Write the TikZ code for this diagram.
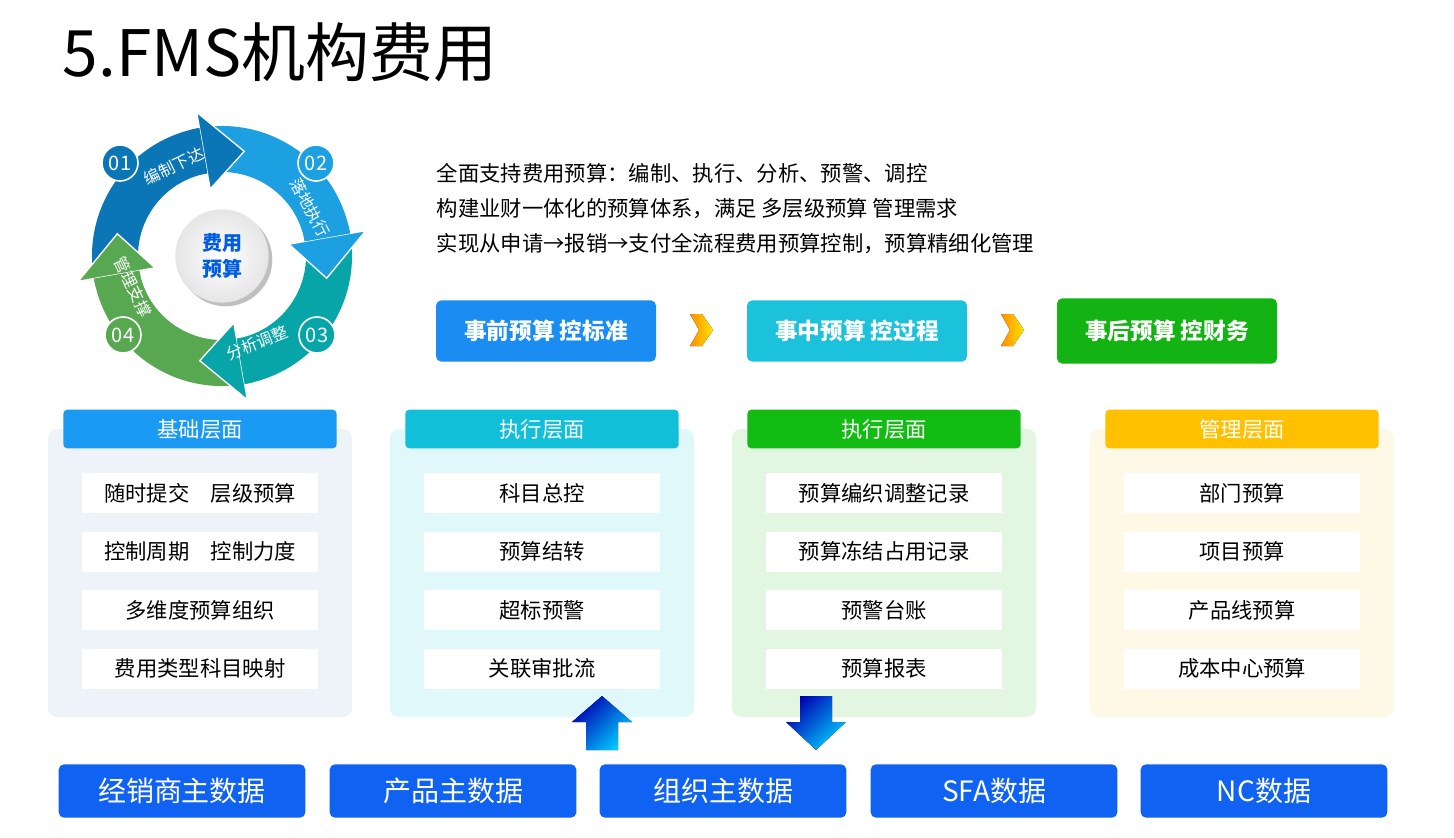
\documentclass[tikz,border=0pt]{standalone}
\usepackage{fontspec}
\setmainfont{Noto Sans CJK SC}
\usetikzlibrary{positioning,shadows}

\definecolor{cycA}{HTML}{0B76B6}
\definecolor{cycB}{HTML}{1CA0E2}
\definecolor{cycC}{HTML}{08A5A8}
\definecolor{cycD}{HTML}{58A852}
\definecolor{stageA}{HTML}{1A8CF2}
\definecolor{stageB}{HTML}{1CC2DC}
\definecolor{stageC}{HTML}{12B312}
\definecolor{dataBlue}{HTML}{1062F2}

\tikzset{
  stage/.style  = {rounded corners=4pt, text=white, font=\bfseries\fontsize{17}{20}\selectfont,
                   minimum width=165pt, minimum height=46pt, inner sep=0pt},
  panel/.style  = {rounded corners=7pt, minimum width=228pt, minimum height=216pt, inner sep=0pt},
  header/.style = {rounded corners=3pt, text=white, font=\fontsize{16}{18}\selectfont,
                   minimum width=205pt, minimum height=29pt, inner sep=0pt},
  item/.style   = {fill=white, font=\fontsize{16}{18}\selectfont,
                   minimum width=177pt, minimum height=30pt, inner sep=0pt},
  data/.style   = {fill=dataBlue, rounded corners=4pt, text=white, font=\fontsize{21}{24}\selectfont,
                   minimum width=185pt, minimum height=40pt, inner sep=0pt},
  badge/.style  = {circle, draw=white, line width=1.2pt, text=white, minimum size=27pt,
                   inner sep=0pt, font=\fontsize{15}{18}\selectfont},
  arclabel/.style = {text=white, inner sep=0pt, font=\fontsize{12}{14}\selectfont},
  chevron/.style  = {left color=orange!90!yellow, right color=yellow!80!orange},
  blockarrow/.style = {left color=blue!70!black, right color=cyan!80!blue, shading angle=45}
}

\begin{document}
\begin{tikzpicture}[x=0.75pt, y=-0.75pt]
  \useasboundingbox[fill=white] (0,0) rectangle (1454,838);

  \node (title) [anchor=west, font=\fontsize{48}{54}\selectfont] at (58,52) {5.FMS机构费用};

  % cycle
  \begin{scope}[shift={(222,256)}, y=0.75pt]
    \foreach \a/\col in {168/cycA, 78/cycB, -12/cycC, -102/cycD} {
      \pgfmathsetmacro\s{\a+20}
      \pgfmathsetmacro\b{\a-68}
      \fill[\col] (\s:130) arc[start angle=\s, end angle=\b, radius=130]
        -- (\b:84) arc[start angle=\b, end angle=\s, radius=84] -- cycle;
    }
    \foreach \a/\col in {168/cycA, 78/cycB, -12/cycC, -102/cycD} {
      \pgfmathsetmacro\b{\a-68}
      \pgfmathsetmacro\t{\a-90}
      \filldraw[fill=\col, draw=white, line width=1pt]
        (\b:146) -- (\t:107) -- (\b:68) -- cycle;
      \fill[\col] (\b:84) arc[start angle=\b, end angle=\b+4, radius=84]
        -- (\b+4:130) arc[start angle=\b+4, end angle=\b, radius=130] -- cycle;
    }
    \node (center) [circle, inner color=white, outer color=gray!20, drop shadow,
                    minimum size=70pt, align=center, text=blue!60!cyan!90!black,
                    font=\bfseries\fontsize{15}{19}\selectfont] at (0,0) {费用\\预算};
  \end{scope}
  \node (n01) [badge, fill=cycA] at (120,163) {01};
  \node (n02) [badge, fill=cycB] at (316,163) {02};
  \node (n03) [badge, fill=cycC] at (317,335) {03};
  \node (n04) [badge, fill=cycD] at (123,335) {04};
  \node (l01) [arclabel, rotate=26]  at (174,166) {编制下达};
  \node (l02) [arclabel, rotate=-62] at (310,208) {落地执行};
  \node (l03) [arclabel, rotate=22]  at (257,343) {分析调整};
  \node (l04) [arclabel, rotate=-64] at (133,287) {管理支撑};

  % intro text
  \node (intro) [anchor=north west, align=left, font=\fontsize{16}{26}\selectfont] at (432,159)
    {全面支持费用预算：编制、执行、分析、预警、调控\\
     构建业财一体化的预算体系，满足 多层级预算 管理需求\\
     实现从申请→报销→支付全流程费用预算控制，预算精细化管理};

  % stages
  \node (before) [stage, fill=stageA] at (546,331)  {事前预算 控标准};
  \node (during) [stage, fill=stageB] at (857,331)  {事中预算 控过程};
  \node (after)  [stage, fill=stageC, minimum height=49pt] at (1167,331) {事后预算 控财务};
  \fill[chevron] (690,314) -- (702,314) -- (713,330) -- (702,346) -- (690,346) -- (699,330) -- cycle;
  \fill[chevron] (1001,314) -- (1013,314) -- (1024,330) -- (1013,346) -- (1001,346) -- (1010,330) -- cycle;

  % panels
  \foreach \px/\bg/\hd/\htext/\ia/\ib/\ic/\id [count=\i] in {
      200/EEF3FA/1A9AF2/基础层面/随时提交\quad 层级预算/控制周期\quad 控制力度/多维度预算组织/费用类型科目映射,
      542/E0F8FA/12BFD9/执行层面/科目总控/预算结转/超标预警/关联审批流,
      884/E2F6E2/12BC12/执行层面/预算编织调整记录/预算冻结占用记录/预警台账/预算报表,
      1242/FDF9E6/FFC000/管理层面/部门预算/项目预算/产品线预算/成本中心预算} {
    \definecolor{pbg}{HTML}{\bg}
    \definecolor{phd}{HTML}{\hd}
    \node (panel\i)  [panel, fill=pbg] at (\px,573) {};
    \node (head\i)   [header, fill=phd] at (\px,429) {\htext};
    \node (itemA\i)  [item] at (\px,493) {\ia};
    \node (itemB\i)  [item, below=13.5pt of itemA\i] {\ib};
    \node (itemC\i)  [item, below=13.5pt of itemB\i] {\ic};
    \node (itemD\i)  [item, below=13.5pt of itemC\i] {\id};
  }

  % data sources
  \node (dealer)  [data] at (182,791)  {经销商主数据};
  \node (product) [data] at (453,791)  {产品主数据};
  \node (org)     [data] at (723,791)  {组织主数据};
  \node (sfa)     [data] at (994,791)  {SFA数据};
  \node (nc)      [data] at (1264,791) {NC数据};

  \fill[blockarrow] (586,750) -- (586,722) -- (572,722) -- (602,696) -- (632,722) -- (618,722) -- (618,750) -- cycle;
  \fill[blockarrow] (800,696) -- (832,696) -- (832,722) -- (846,722) -- (816,750) -- (786,722) -- (800,722) -- cycle;
\end{tikzpicture}
\end{document}
